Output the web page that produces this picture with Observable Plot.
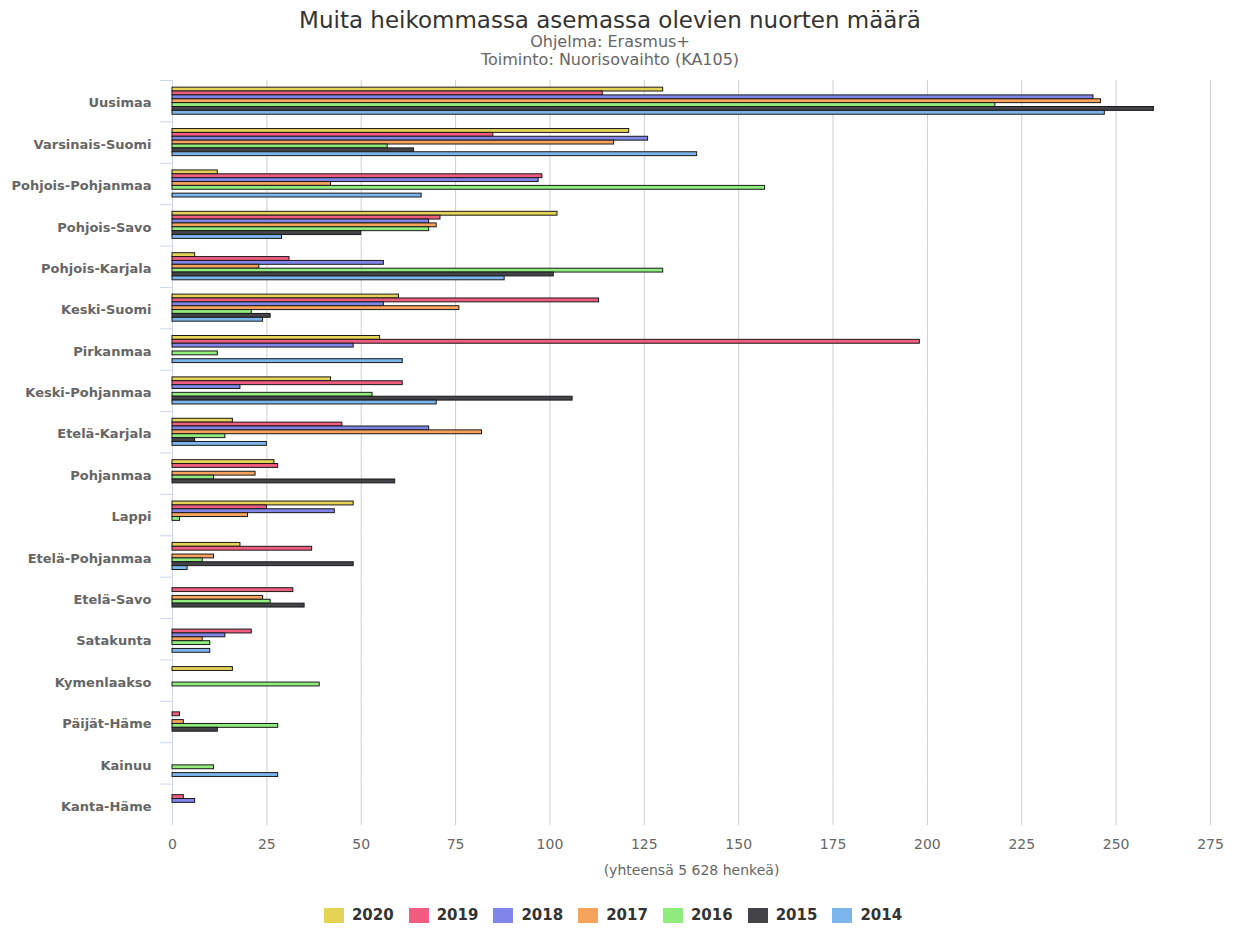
<!DOCTYPE html>
<html>
<head>
<meta charset="utf-8">
<script src="https://cdn.jsdelivr.net/npm/d3@7"></script>
<script src="https://cdn.jsdelivr.net/npm/@observablehq/plot@0.6"></script>
<style>
  body { margin: 0; background: #fff; font-family: "DejaVu Sans", sans-serif; }
  #wrap { width: 1238px; }
  .title { width: 1220px; text-align: center; font-size: 23px; line-height: 26px; padding-top: 7px; color: #333; }
  .sub { width: 1220px; text-align: center; font-size: 16px; line-height: 18px; color: #666; margin-top: 0px; }
  #legend { width: 1226px; display: flex; justify-content: center; gap: 15px; margin-top: 22px; }
  .item { display: flex; align-items: center; gap: 8px; font-size: 15px; font-weight: bold; color: #333; line-height: 16px; }
  .sw { width: 20px; height: 15px; display: inline-block; }
</style>
</head>
<body>
<div id="wrap">
  <div class="title">Muita heikommassa asemassa olevien nuorten määrä</div>
  <div class="sub">Ohjelma: Erasmus+<br>Toiminto: Nuorisovaihto (KA105)</div>
  <div id="chart"></div>
  <div id="legend"></div>
</div>
<script>
const regions = ["Uusimaa","Varsinais-Suomi","Pohjois-Pohjanmaa","Pohjois-Savo","Pohjois-Karjala","Keski-Suomi","Pirkanmaa","Keski-Pohjanmaa","Etelä-Karjala","Pohjanmaa","Lappi","Etelä-Pohjanmaa","Etelä-Savo","Satakunta","Kymenlaakso","Päijät-Häme","Kainuu","Kanta-Häme"];
const years = ["2020","2019","2018","2017","2016","2015","2014"];
const colors = ["#e4d354","#f15c80","#8085e9","#f7a35c","#90ed7d","#434348","#7cb5ec"];
const xTicks = [0,25,50,75,100,125,150,175,200,225,250,275];

const v2020 = [130,121,12,102,6,60,55,42,16,27,48,18,0,0,16,0,0,0];
const v2019 = [114,85,98,71,31,113,198,61,45,28,25,37,32,21,0,2,0,3];
const v2018 = [244,126,97,68,56,56,48,18,68,0,43,0,0,14,0,0,0,6];
const v2017 = [246,117,42,70,23,76,0,0,82,22,20,11,24,8,0,3,0,0];
const v2016 = [218,57,157,68,130,21,12,53,14,11,2,8,26,10,39,28,11,0];
const v2015 = [260,64,0,50,101,26,0,106,6,59,0,48,35,0,0,12,0,0];
const v2014 = [247,139,66,29,88,24,61,70,25,0,0,4,0,10,0,0,28,0];

const series = [v2020, v2019, v2018, v2017, v2016, v2015, v2014];
const data = [];
years.forEach((yr, i) => {
  regions.forEach((r, j) => {
    const v = series[i][j];
    if (v > 0) data.push({region: r, year: yr, value: v});
  });
});

const chart = Plot.plot({
  width: 1238,
  height: 816,
  marginTop: 11,
  marginBottom: 60,
  marginLeft: 172,
  marginRight: 28,
  style: {fontFamily: "DejaVu Sans, sans-serif", fontSize: "13px", color: "#666", background: "white"},
  x: {domain: [0, 275]},
  y: {domain: years, axis: null, paddingInner: 0, paddingOuter: 1.85, round: false},
  fy: {domain: regions, padding: 0, axis: null, round: false},
  color: {domain: years, range: colors},
  marks: [
    Plot.gridX(xTicks, {stroke: "#cfcfcf", strokeOpacity: 1}),
    Plot.frame({anchor: "top", stroke: "#ccd6eb", insetLeft: -12, insetRight: 1038}),
    Plot.ruleX([0], {stroke: "#ccd6eb"}),
    Plot.barX(data, {x: "value", y: "year", fy: "region", fill: "year", stroke: "#1a1a1a", strokeWidth: 1}),
    Plot.axisFy({anchor: "left", label: null, tickSize: 0, tickPadding: 21, dy: 2, fontWeight: "bold", fontSize: 13, fill: "#666"}),
    Plot.axisX(xTicks, {anchor: "bottom", tickSize: 0, tickPadding: 14, fontSize: 14, fill: "#666",
      label: "(yhteensä 5 628 henkeä)", labelAnchor: "center", labelArrow: "none", labelOffset: 49})
  ]
});
document.getElementById("chart").appendChild(chart);

const legend = document.getElementById("legend");
years.forEach((yr, i) => {
  const it = document.createElement("div");
  it.className = "item";
  const sw = document.createElement("span");
  sw.className = "sw";
  sw.style.background = colors[i];
  it.appendChild(sw);
  it.appendChild(document.createTextNode(yr));
  legend.appendChild(it);
});
</script>
</body>
</html>
